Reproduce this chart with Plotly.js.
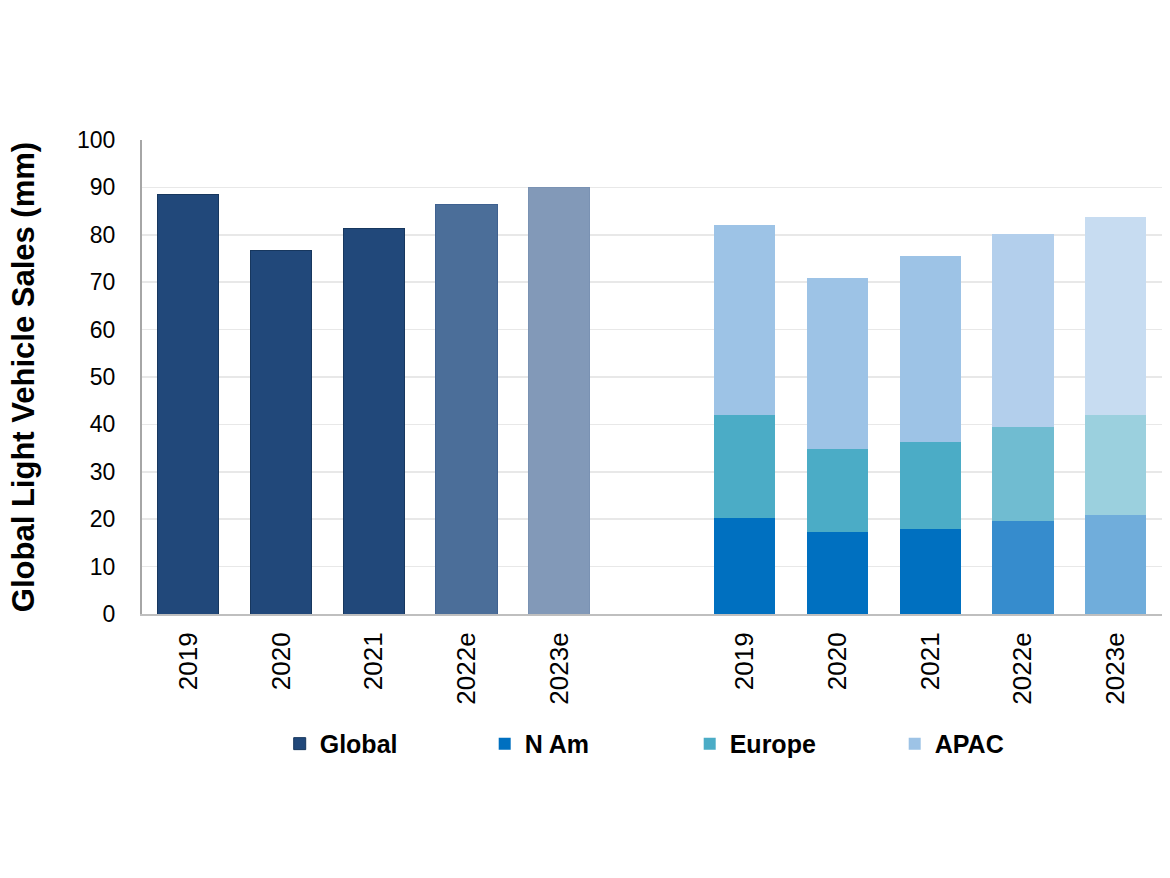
<!DOCTYPE html>
<html>
<head>
<meta charset="utf-8">
<script src="https://cdn.plot.ly/plotly-3.0.1.min.js"></script>
<style>
  html, body { margin: 0; padding: 0; background: #ffffff; }
  #chart { width: 1170px; height: 878px; }
</style>
</head>
<body>
<div id="chart"></div>
<script>
// ---- data ----
var years = ["2019", "2020", "2021", "2022e", "2023e"];
var globalSales = [88.5, 76.6, 81.4, 86.4, 90.0];
var nAmSales = [20.2, 17.2, 18.0, 19.6, 20.9];
var europeSales = [21.7, 17.6, 18.2, 19.9, 21.1];
var apacSales = [40.1, 36.1, 39.4, 40.7, 41.7];
var yTicks = [0, 10, 20, 30, 40, 50, 60, 70, 80, 90, 100];

// ---- styles ----
var globalColors = ["#21487A", "#21487A", "#21487A", "#4B6E99", "#8299B8"];
var globalLine = ["#17375E", "#17375E", "#17375E", "#3F6190", "#7A92B3"];
var nAmColors = ["#0070C0", "#0070C0", "#0070C0", "#368CCD", "#70ADDB"];
var europeColors = ["#4BACC6", "#4BACC6", "#4BACC6", "#70BCD1", "#9BD0DE"];
var apacColors = ["#9DC3E6", "#9DC3E6", "#9DC3E6", "#B3CFEC", "#C7DCF1"];

var gIds = years.map(function (y) { return "G|" + y; });
var rIds = years.map(function (y) { return "R|" + y; });
var gapId = "gap";
var catOrder = gIds.concat([gapId]).concat(rIds);

var baseFont = { family: "Liberation Sans, Arial, sans-serif", color: "#000000" };

var traces = [
  {
    type: "bar", name: "Global", x: gIds, y: globalSales,
    marker: { color: globalColors, line: { color: globalLine, width: 1 } },
    hoverinfo: "y"
  },
  {
    type: "bar", name: "N Am", x: rIds, y: nAmSales,
    marker: { color: nAmColors, line: { width: 0 } }, hoverinfo: "y"
  },
  {
    type: "bar", name: "Europe", x: rIds, y: europeSales,
    marker: { color: europeColors, line: { width: 0 } }, hoverinfo: "y"
  },
  {
    type: "bar", name: "APAC", x: rIds, y: apacSales,
    marker: { color: apacColors, line: { width: 0 } }, hoverinfo: "y"
  }
];

var layout = {
  width: 1170, height: 878,
  margin: { l: 142, r: 8, t: 140, b: 264, pad: 0 },
  paper_bgcolor: "#ffffff", plot_bgcolor: "#ffffff",
  barmode: "stack", bargap: 0.34,
  showlegend: true,
  font: baseFont,
  xaxis: {
    type: "category",
    categoryorder: "array", categoryarray: catOrder,
    range: [-0.5, 10.5],
    tickmode: "array",
    tickvals: gIds.concat(rIds),
    ticktext: years.concat(years),
    tickangle: -90,
    tickfont: { family: baseFont.family, size: 26, color: "#000000" },
    ticks: "", ticklabelstandoff: 6,
    showgrid: false, zeroline: false,
    showline: true, linecolor: "#BFBFBF", linewidth: 2,
    fixedrange: true
  },
  yaxis: {
    range: [0, 100],
    tickmode: "array", tickvals: yTicks,
    tickfont: { family: baseFont.family, size: 23, color: "#000000" },
    ticks: "", ticklabelstandoff: 20,
    showgrid: true, gridcolor: "#E8E8E8", gridwidth: 1.5,
    zeroline: false,
    showline: true, linecolor: "#A6A6A6", linewidth: 2,
    title: {
      text: "Global Light Vehicle Sales (mm)",
      font: { family: baseFont.family, size: 31, color: "#000000", weight: "bold" },
      standoff: 33
    },
    fixedrange: true
  },
  legend: {
    orientation: "h",
    x: 0.135, xanchor: "left",
    y: -0.274, yanchor: "middle",
    entrywidth: 160, entrywidthmode: "pixels",
    font: { family: baseFont.family, size: 25, color: "#000000", weight: "bold" },
    traceorder: "normal",
    itemclick: false, itemdoubleclick: false
  }
};

Plotly.newPlot("chart", traces, layout, { displayModeBar: false, staticPlot: true });
</script>
</body>
</html>
